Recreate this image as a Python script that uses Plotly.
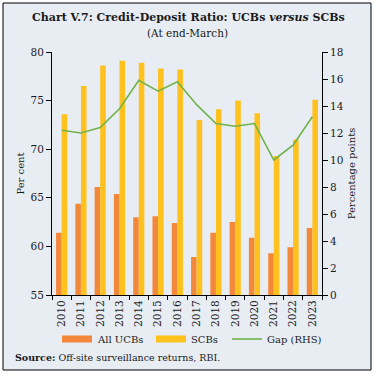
import plotly.graph_objects as go

years = ["2010", "2011", "2012", "2013", "2014", "2015", "2016", "2017",
         "2018", "2019", "2020", "2021", "2022", "2023"]
ucbs = [61.4, 64.4, 66.1, 65.4, 63.0, 63.1, 62.4, 58.9, 61.4, 62.5, 60.9, 59.3, 59.9, 61.9]
scbs = [73.6, 76.5, 78.6, 79.1, 78.9, 78.3, 78.2, 73.0, 74.1, 75.0, 73.7, 69.3, 71.0, 75.1]
gap = [12.2, 12.0, 12.4, 13.8, 15.9, 15.1, 15.8, 14.1, 12.7, 12.5, 12.7, 10.0, 11.1, 13.2]

names = ["All UCBs", "SCBs", "Gap (RHS)"]
colors = ["#F4883A", "#FFC11E", "#70B24A"]

W, H = 376, 376
L, R, T, B = 52, 322, 52, 295
FONT = "DejaVu Serif"
BG = "#E8EDF4"

def px(x):
    return (x - L) / (R - L)

def py(y):
    return (B - y) / (B - T)

fig = go.Figure()
fig.add_trace(go.Bar(x=years, y=ucbs, name=names[0], marker_color=colors[0],
                     marker_line_width=0, showlegend=False))
fig.add_trace(go.Bar(x=years, y=scbs, name=names[1], marker_color=colors[1],
                     marker_line_width=0, showlegend=False))
fig.add_trace(go.Scatter(x=years, y=gap, name=names[2], yaxis="y2", mode="lines",
                         line=dict(color=colors[2], width=1.6), showlegend=False))

shapes = [dict(type="rect", xref="paper", yref="paper", x0=px(3), x1=px(371),
               y0=py(370), y1=py(3), fillcolor=BG, line=dict(color="black", width=1),
               layer="below")]
annotations = [
    dict(text="<b>Chart V.7: Credit-Deposit Ratio: UCBs <i>versus</i> SCBs</b>",
         x=px(188), y=py(18), xref="paper", yref="paper", showarrow=False,
         font=dict(family=FONT, size=11, color="#1a1a1a"), xanchor="center", yanchor="middle"),
    dict(text="(At end-March)", x=px(187), y=py(33), xref="paper", yref="paper",
         showarrow=False, font=dict(family=FONT, size=10.5, color="#1a1a1a"),
         xanchor="center", yanchor="middle"),
    dict(text="<b>Source:</b> Off-site surveillance returns, RBI.", x=px(13), y=py(357),
         xref="paper", yref="paper", showarrow=False,
         font=dict(family=FONT, size=9.5, color="#1a1a1a"), xanchor="left", yanchor="middle"),
]

# legend
leg_y = 339
items = [(62, "bar"), (156, "bar"), (232, "line")]
for (x0, kind), nm, col in zip(items, names, colors):
    if kind == "bar":
        shapes.append(dict(type="rect", xref="paper", yref="paper", x0=px(x0), x1=px(x0 + 30),
                           y0=py(leg_y + 3.5), y1=py(leg_y - 3.5), fillcolor=col,
                           line=dict(width=0)))
    else:
        shapes.append(dict(type="line", xref="paper", yref="paper", x0=px(x0), x1=px(x0 + 30),
                           y0=py(leg_y), y1=py(leg_y), line=dict(color=col, width=1.6)))
    annotations.append(dict(text=nm, x=px(x0 + 33), y=py(leg_y), xref="paper", yref="paper",
                            showarrow=False, xanchor="left", yanchor="middle",
                            font=dict(family=FONT, size=10, color="#1a1a1a")))

fig.update_layout(
    width=W, height=H,
    margin=dict(l=L, r=W - R, t=T, b=H - B, pad=0),
    paper_bgcolor="white", plot_bgcolor="rgba(0,0,0,0)",
    font=dict(family=FONT, size=10, color="#1a1a1a"),
    barmode="group", bargap=0.42, bargroupgap=0,
    showlegend=False,
    shapes=shapes, annotations=annotations,
    xaxis=dict(type="category", tickangle=-90, showline=True, linecolor="black", linewidth=1,
               ticks="outside", tickson="boundaries", ticklen=4, tickcolor="black",
               showgrid=False, zeroline=False, tickfont=dict(size=10.5)),
    yaxis=dict(range=[55, 80], dtick=5, showline=True, linecolor="black", linewidth=1,
               ticks="outside", ticklen=5, tickcolor="black", showgrid=False, zeroline=False,
               title=dict(text="Per cent", font=dict(size=10), standoff=4),
               tickfont=dict(size=10.5)),
    yaxis2=dict(range=[0, 18], dtick=2, overlaying="y", side="right", showline=True,
                linecolor="black", linewidth=1, ticks="outside", ticklen=5, tickcolor="black",
                showgrid=False, zeroline=False,
                title=dict(text="Percentage points", font=dict(size=10), standoff=5),
                tickfont=dict(size=10.5)),
)

fig.write_html("out.html", config={"displayModeBar": False},
               post_script="document.body.style.margin='0';document.body.style.overflow='hidden';")
